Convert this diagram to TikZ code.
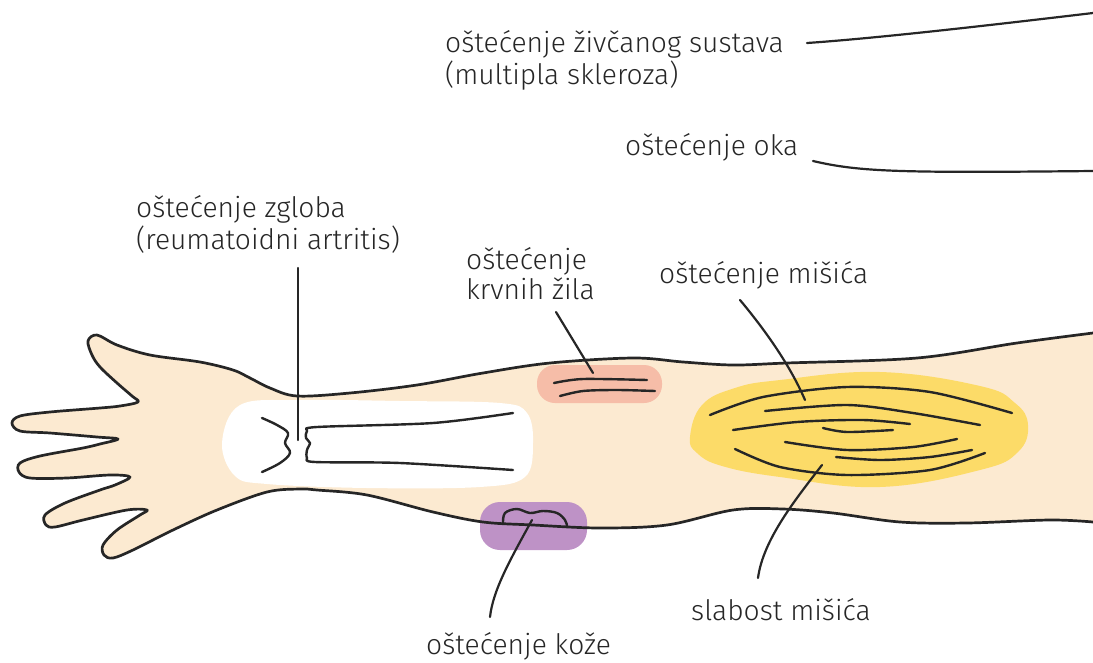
\documentclass[tikz,border=0pt]{standalone}
\usepackage{fontspec}
\setmainfont{Fira Sans Light}
\definecolor{skin}{RGB}{252,234,209}
\definecolor{muscle}{RGB}{252,219,104}
\definecolor{vessel}{RGB}{246,189,168}
\definecolor{lesion}{RGB}{190,146,198}
\definecolor{ink}{RGB}{38,38,38}
\newcommand{\lines}[1]{\begin{tabular}[t]{@{}l@{}}#1\end{tabular}}
\begin{document}
\begin{tikzpicture}[x=1pt,y=-1pt,
  outline/.style={draw=ink, line width=2.7pt, line cap=round, line join=round},
  fibre/.style={draw=ink, line width=2.4pt, line cap=round, line join=round},
  leader/.style={draw=ink, line width=2.2pt, line cap=round},
  label/.style={font=\fontsize{28.2}{30}\selectfont, text=ink, inner sep=0pt, anchor=base west}]
\useasboundingbox (0,0) rectangle (1093,662);

% arm and hand, filled (the open end on the right closes straight)
\def\armpath{plot[smooth, tension=0.55] coordinates {
  (1093,333) (1017,343) (917,358) (787,363) (733,365) (683,362) (633,358)
  (550,363) (483,373) (417,385) (350,393) (297,396) (270,388) (250,378)
  (233,370) (200,362) (150,355) (117,345) (97,335) (88,341) (92,355)
  (100,367) (117,383) (132,396) (138,402) (120,406) (100,408) (50,412)
  (20,416) (12,423) (20,431) (50,433) (97,437) (118,439) (100,444)
  (83,448) (40,456) (20,463) (19,472) (30,478) (67,478) (110,475)
  (130,477) (115,485) (100,490) (65,503) (45,515) (46,525) (55,527)
  (83,520) (127,510) (147,510) (140,515) (117,530) (103,545) (104,555)
  (113,558) (133,550) (173,530) (217,510) (267,492) (300,489) (317,490)
  (367,495) (433,512) (483,522) (533,525) (600,528) (667,525) (733,510)
  (783,509) (833,513) (900,522) (967,523) (1050,520) (1093,522)}}
\fill[skin] \armpath;

% bone area
\fill[white] plot[smooth cycle, tension=0.6] coordinates {
  (240,405) (300,400) (400,401) (500,403) (527,413) (533,443) (525,477)
  (480,487) (367,488) (267,484) (235,476) (222,443)};

% coloured patches
\fill[vessel, rounded corners=18pt] (537,365) rectangle (662,403);
\fill[muscle] plot[smooth cycle, tension=0.7] coordinates {
  (690,437) (702,405) (735,388) (780,380) (880,372) (980,386) (1015,403)
  (1028,425) (1018,452) (980,470) (880,487) (780,477) (722,466) (697,453)};
\fill[lesion, rounded corners=20pt] (480,502) rectangle (587,550);

\path[outline] \armpath;

% joint
\draw[fibre] plot[smooth, tension=0.6] coordinates {
  (262,418) (277,425) (288,433) (285,443) (290,453) (280,463) (262,472)};
\draw[fibre] plot[smooth, tension=0.5] coordinates {
  (513,413) (433,423) (317,427) (307,431) (306,438) (310,443) (307,450)
  (307,458) (315,462) (400,463) (513,470)};

% blood vessel
\draw[fibre] plot[smooth] coordinates {(554,383) (583,379) (647,380)};
\draw[fibre] plot[smooth] coordinates {(560,396) (583,391) (617,390) (655,391)};

% muscle fibres
\draw[fibre] plot[smooth] coordinates {(710,415) (763,397) (847,387) (930,392) (1012,413)};
\draw[fibre] plot[smooth] coordinates {(765,411) (847,405) (913,413) (980,425)};
\draw[fibre] plot[smooth] coordinates {(733,430) (797,422) (863,420) (910,424)};
\draw[fibre] plot[smooth] coordinates {(823,428) (847,432) (893,430)};
\draw[fibre] plot[smooth] coordinates {(785,442) (847,450) (913,447) (957,439)};
\draw[fibre] plot[smooth] coordinates {(735,449) (780,467) (847,475) (930,470) (985,453)};
\draw[fibre] plot[smooth] coordinates {(836,457) (880,460) (930,457) (972,450)};

% skin lesion
\draw[fibre] plot[smooth, tension=0.6] coordinates {
  (503,523) (505,513) (517,509) (530,513) (543,511) (557,513) (565,520) (567,526)};

% labels
\node[label] (nerve) at (445,52) {\lines{oštećenje živčanog sustava\\(multipla skleroza)}};
\node[label] (eye) at (625,155) {oštećenje oka};
\node[label] (joint) at (136,217) {\lines{oštećenje zgloba\\(reumatoidni artritis)}};
\node[label] (vessels) at (466,269) {\lines{oštećenje\\krvnih žila}};
\node[label] (muscles) at (659,283) {oštećenje mišića};
\node[label] (weak) at (691,620) {slabost mišića};
\node[label] (skinlbl) at (426,654) {oštećenje kože};

% leader ends
\coordinate (nerveA) at (807,43);
\coordinate (nerveB) at (1093,13);
\coordinate (eyeA) at (813,161);
\coordinate (eyeB) at (1093,171);
\coordinate (jointA) at (298,268);
\coordinate (jointB) at (298,440);
\coordinate (vesselA) at (556,312);
\coordinate (vesselB) at (593,373);
\coordinate (muscleA) at (740,300);
\coordinate (muscleB) at (805,400);
\coordinate (weakA) at (822,465);
\coordinate (weakB) at (758,578);
\coordinate (skinA) at (532,520);
\coordinate (skinB) at (490,617);

\draw[leader] (nerveA) .. controls (880,38) and (1000,24) .. (nerveB);
\draw[leader] (eyeA) .. controls (860,172) and (900,173) .. (eyeB);
\draw[leader] (jointA) -- (jointB);
\draw[leader] (vesselA) -- (vesselB);
\draw[leader] (muscleA) .. controls (765,330) and (790,365) .. (muscleB);
\draw[leader] (weakA) .. controls (795,500) and (763,540) .. (weakB);
\draw[leader] (skinA) .. controls (510,560) and (493,590) .. (skinB);
\end{tikzpicture}
\end{document}
